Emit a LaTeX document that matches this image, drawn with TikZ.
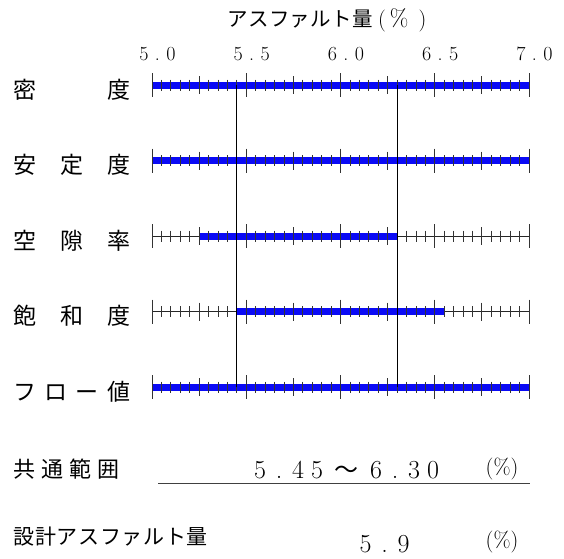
\documentclass[tikz,border=0pt]{standalone}
\usepackage{fontspec}
\newfontfamily\cjk{Noto Sans CJK JP}
\newcommand\xa[1]{152+((#1)-5)*188.5}
\begin{document}
\begin{tikzpicture}[x=1pt,y=-1pt,
  rowlbl/.style={inner sep=0pt, anchor=west, font=\cjk\fontsize{23}{23}\selectfont},
  axnum/.style={inner sep=0pt, anchor=base, font=\fontsize{20}{20}\selectfont},
  bignum/.style={inner sep=0pt, anchor=base west, font=\fontsize{26}{26}\selectfont},
  pct/.style={inner sep=0pt, font=\fontsize{22}{22}\selectfont},
  axisline/.style={draw=black!85, line width=0.8pt},
  barfill/.style={fill={rgb,255:red,10;green,10;blue,245}},
  tickline/.style={draw=black!80, line width=0.8pt},
  vline/.style={draw=black, line width=0.9pt},
  uline/.style={draw=black!75, line width=0.9pt}]
\useasboundingbox (0,0) rectangle (564,558);

% title
\node[inner sep=0pt, anchor=west, font=\fontsize{22}{22}\selectfont] (title) at (227,20)
  {{\cjk\fontsize{20.5}{20.5}\selectfont\makebox[146pt][s]{ア\hfill ス\hfill フ\hfill ァ\hfill ル\hfill ト\hfill 量}}\hspace{5pt}(\hspace{4pt}{\fontsize{24}{24}\selectfont\%}\hspace{10pt})};

% axis numbers
\foreach \v/\p/\q in {5/5/0, 5.5/5/5, 6/6/0, 6.5/6/5, 7/7/0}
  \node[axnum] (ax-\p\q) at ({\xa{\v}+5.5},60)
    {\makebox[13.5pt]{\p}\makebox[13.5pt]{.}\makebox[13.5pt]{\q}};

% rows
\foreach \k/\a/\b/\txt in {0/5.0/7.0/{密\hfill 度},
                           1/5.0/7.0/{安\hfill 定\hfill 度},
                           2/5.25/6.30/{空\hfill 隙\hfill 率},
                           3/5.45/6.55/{飽\hfill 和\hfill 度},
                           4/5.0/7.0/{フ\hfill ロ\hfill ー\hfill 値}} {
  \pgfmathsetmacro\yy{85+75.5*\k}
  \coordinate (r\k-l) at ({\xa{5}},\yy);
  \coordinate (r\k-r) at ({\xa{7}},\yy);
  \draw[axisline] (r\k-l) -- (r\k-r);
  \fill[barfill] ({\xa{\a}},\yy-3.5) rectangle ({\xa{\b}},\yy+3.5);
  \foreach \i in {0,...,40} {
    \pgfmathsetmacro\tl{mod(\i,10)==0 ? 12 : (mod(\i,5)==0 ? 9 : 5.5)}
    \draw[tickline] ({152+\i*9.425},\yy-\tl) -- ({152+\i*9.425},\yy+\tl);
  }
  \node[rowlbl] (lab-\k) at (13,\yy+4.5) {\makebox[117pt][s]{\txt}};
}

% common range lines
\coordinate (v1t) at ({\xa{5.45}},85);
\coordinate (v1b) at ({\xa{5.45}},387);
\coordinate (v2t) at ({\xa{6.30}},85);
\coordinate (v2b) at ({\xa{6.30}},387);
\draw[vline] (v1t) -- (v1b);
\draw[vline] (v2t) -- (v2b);

% common range text
\node[rowlbl, font=\cjk\fontsize{22}{22}\selectfont] (kyotsu) at (13,469)
  {\makebox[106pt][s]{共\hfill 通\hfill 範\hfill 囲}};
\node[bignum] (range) at (250.5,478)
  {\makebox[19pt]{5}\makebox[19pt]{.}\makebox[19pt]{4}\makebox[19pt]{5}%
   \makebox[40pt]{\cjk\fontsize{24}{24}\selectfont ～}%
   \makebox[19pt]{6}\makebox[19pt]{.}\makebox[19pt]{3}\makebox[19pt]{0}};
\node[pct] (pct1) at (502,468.5) {(\%)};
\coordinate (ul-l) at (158,483.5);
\coordinate (ul-r) at (530,483.5);
\draw[uline] (ul-l) -- (ul-r);

% design asphalt
\node[rowlbl, font=\cjk\fontsize{21}{21}\selectfont] (sekkei) at (13.5,537)
  {\makebox[194pt][s]{設\hfill 計\hfill ア\hfill ス\hfill フ\hfill ァ\hfill ル\hfill ト\hfill 量}};
\node[bignum] (design) at (356,552)
  {\makebox[19pt]{5}\makebox[19pt]{.}\makebox[19pt]{9}};
\node[pct] (pct2) at (502,541.5) {(\%)};
\end{tikzpicture}
\end{document}
